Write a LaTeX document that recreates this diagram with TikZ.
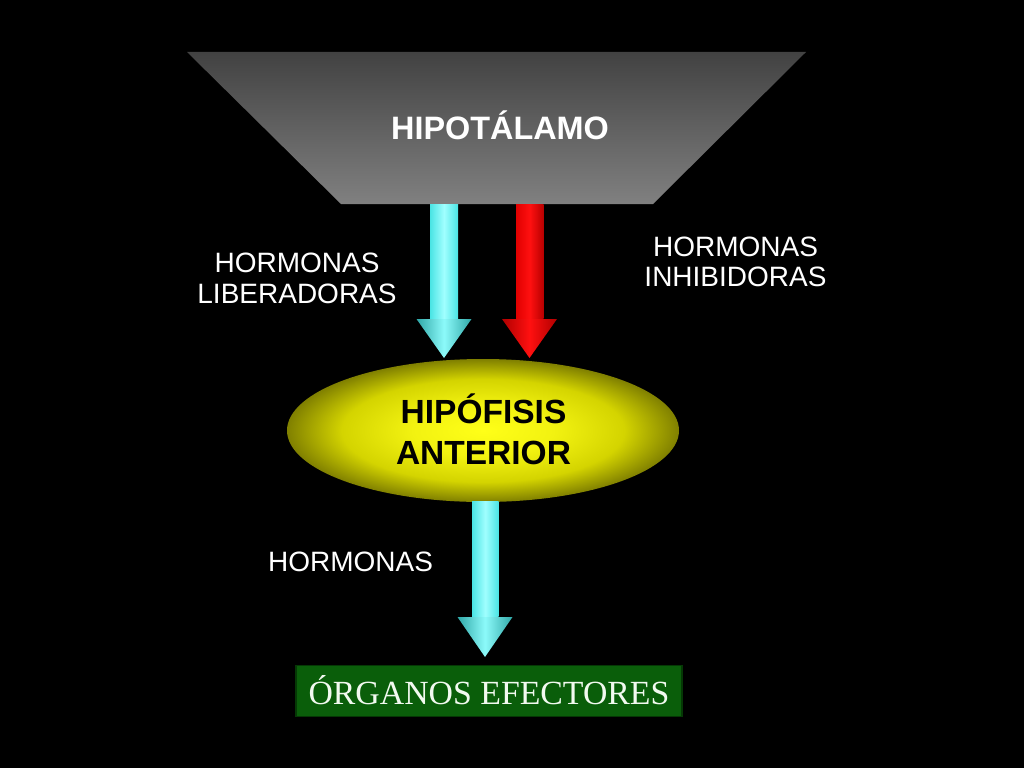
\documentclass[tikz,border=0pt]{standalone}
\usepackage{fontspec}
\setmainfont{Liberation Sans}
\newfontfamily\timesfont{Liberation Serif}
\usetikzlibrary{calc,shapes.geometric}
\definecolor{trapTop}{HTML}{424242}
\definecolor{trapBot}{HTML}{808080}
\definecolor{cyEdge}{HTML}{4AE4E4}
\definecolor{cyMid}{HTML}{A0FFFF}
\definecolor{cyHeadEdge}{HTML}{2FA8A8}
\definecolor{cyHeadMid}{HTML}{8CFAFA}
\definecolor{rdLeft}{HTML}{E00000}
\definecolor{rdMid}{HTML}{FF1010}
\definecolor{rdRight}{HTML}{B80000}
\definecolor{rdHeadEdge}{HTML}{B00000}
\definecolor{ellIn}{HTML}{FFFF18}
\definecolor{ellMid}{HTML}{D4D400}
\definecolor{ellOut}{HTML}{808000}
\definecolor{boxFill}{HTML}{0A5E0A}
\definecolor{boxLine}{HTML}{053805}
\definecolor{boxText}{HTML}{F2FAF0}
\pgfdeclareradialshading{ellshade}{\pgfpoint{0bp}{0bp}}{%
  color(0bp)=(ellIn); color(9bp)=(ellIn!70!ellMid); color(18bp)=(ellMid);
  color(25bp)=(ellOut); color(50bp)=(ellOut)}
\tikzset{
  lbl/.style={text=white, anchor=base, inner sep=0pt, font=\fontsize{28}{30}\selectfont},
  bigblack/.style={text=black, anchor=base, inner sep=0pt, font=\bfseries\fontsize{33.5}{40}\selectfont},
  cyanshaft/.style={left color=cyEdge, right color=cyEdge, middle color=cyMid},
  cyanhead/.style={left color=cyHeadEdge, right color=cyHeadEdge, middle color=cyHeadMid},
  redshaft/.style={left color=rdLeft, right color=rdRight, middle color=rdMid},
  redhead/.style={left color=rdHeadEdge, right color=rdHeadEdge, middle color=rdMid},
}
% #1 start, #2 tip, #3 half shaft, #4 half head, #5 head length, #6 shaft style, #7 head style
\newcommand\fatarrow[7]{%
  \shade[#6] ($(#1)+(-#3,0)$) rectangle ($(#2)+(#3,-#5-0.5)$);
  \shade[#7] ($(#2)+(-#4,-#5)$) -- ($(#2)+(#4,-#5)$) -- (#2) -- cycle;
}
\begin{document}
\begin{tikzpicture}[x=1pt,y=-1pt]
\useasboundingbox (0,0) rectangle (1024,768);
\fill[black] (0,0) rectangle (1024,768);

% Hypothalamus trapezoid
\shade[top color=trapTop, bottom color=trapBot]
  (187,52) -- (806,52) -- (653,204) -- (341,204) -- cycle;
\node[text=white, anchor=base, inner sep=0pt, font=\bfseries\fontsize{32.4}{36}\selectfont]
  (hypo) at (500,139.3) {HIPOTÁLAMO};

% Anterior pituitary ellipse
\node[ellipse, minimum width=392pt, minimum height=143pt, inner sep=0pt,
      shading=ellshade] (hip) at (483,430.5) {};
\node[bigblack] (hip1) at (483.5,423) {HIPÓFISIS};
\node[bigblack] (hip2) at (483.5,464) {ANTERIOR};

% Effector organs box
\node[fill=boxFill, draw=boxLine, line width=1.5pt, minimum width=386pt, minimum height=51pt,
      text=boxText, font=\timesfont\fontsize{33.8}{38}\selectfont,
      text height=26pt, text depth=0pt, inner sep=0pt] (org) at (489,691.2) {ÓRGANOS EFECTORES};

% connector endpoints
\coordinate (a1s) at (444,204);
\coordinate (a1e) at (444,358);
\coordinate (a2s) at (530,204);
\coordinate (a2e) at (529.5,358);
\coordinate (a3s) at (485.5,501.5);
\coordinate (a3e) at (485,657);

\fatarrow{a1s}{a1e}{14}{27.5}{39}{cyanshaft}{cyanhead}
\fatarrow{a2s}{a2e}{14}{27.5}{39}{redshaft}{redhead}
\fatarrow{a3s}{a3e}{13.5}{27.5}{40}{cyanshaft}{cyanhead}

% labels
\node[lbl] (lib1) at (297,272.7) {HORMONAS};
\node[lbl] (lib2) at (297,303.3) {LIBERADORAS};
\node[lbl] (inh1) at (735.5,256.7) {HORMONAS};
\node[lbl] (inh2) at (735.5,286.7) {INHIBIDORAS};
\node[lbl] (hor) at (350.5,571) {HORMONAS};
\end{tikzpicture}
\end{document}
